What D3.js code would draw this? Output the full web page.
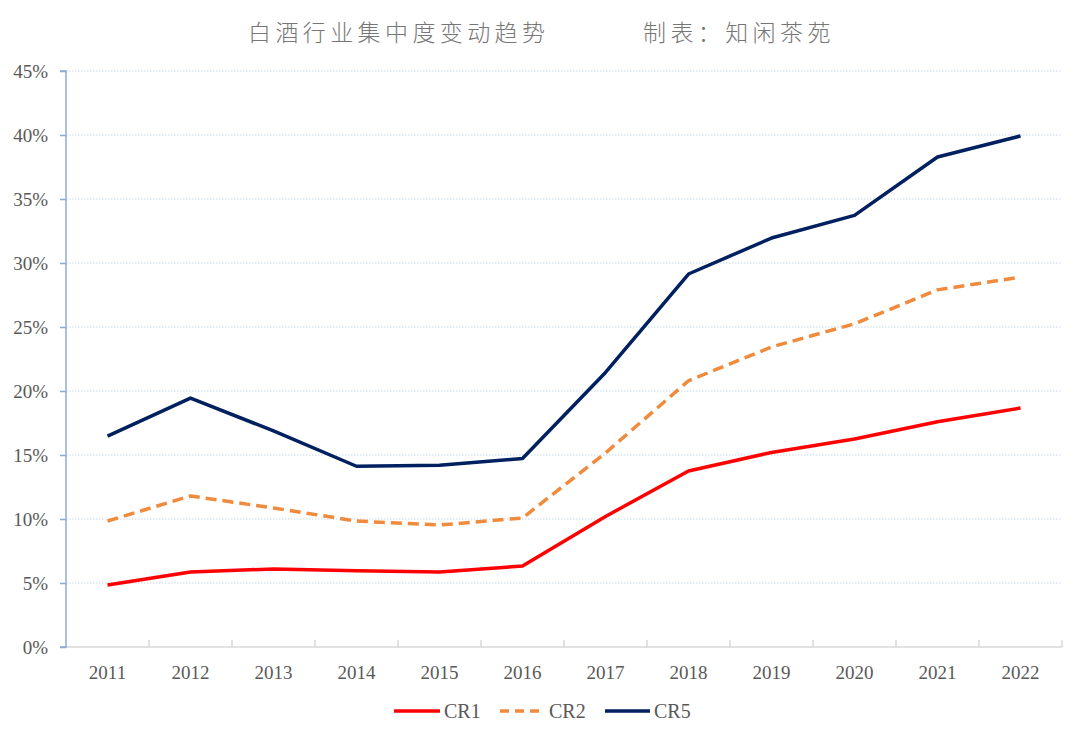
<!DOCTYPE html>
<html>
<head>
<meta charset="utf-8">
<script src="https://cdn.jsdelivr.net/npm/d3@7"></script>
<style>
    body { margin: 0; background: #fff; }
    svg { display: block; }
</style>
</head>
<body>
<div id="chart"></div>
<script>
// chart data
var years = ['2011', '2012', '2013', '2014', '2015', '2016', '2017', '2018', '2019', '2020', '2021', '2022'];
var cr1 = [4.85, 5.86, 6.1, 5.95, 5.86, 6.33, 10.2, 13.75, 15.2, 16.25, 17.6, 18.67];
var cr2 = [9.84, 11.8, 10.86, 9.84, 9.53, 10.08, 15.16, 20.8, 23.44, 25.25, 27.9, 28.9];
var cr5 = [16.48, 19.45, 16.88, 14.12, 14.2, 14.72, 21.45, 29.14, 31.95, 33.72, 38.28, 39.92];
var yTicks = [0, 5, 10, 15, 20, 25, 30, 35, 40, 45];
var seriesNames = ['CR1', 'CR2', 'CR5'];

var width = 1080;
var height = 737;
var margins = { top: 71, right: 18, bottom: 90, left: 66 };

var svg = d3.select('#chart').append('svg')
    .attr('width', width)
    .attr('height', height);

// title
var title = svg.append('text')
    .attr('x', 248)
    .attr('y', 41)
    .attr('fill', '#767676')
    .style('font-family', '"Noto Sans CJK SC", sans-serif')
    .style('font-weight', 300)
    .style('font-size', '23px')
    .style('letter-spacing', '4.4px');
title.append('tspan').text('白酒行业集中度变动趋势');
title.append('tspan').attr('x', 643).text('制表：知闲茶苑');

var x = d3.scaleBand()
    .domain(years)
    .range([margins.left, width - margins.right]);

var y = d3.scaleLinear()
    .domain([0, 45])
    .range([height - margins.bottom, margins.top]);

// gridlines
svg.append('g')
    .selectAll('line')
    .data(yTicks.slice(1))
    .enter().append('line')
    .attr('x1', margins.left)
    .attr('x2', width - margins.right)
    .attr('y1', function(d) { return y(d); })
    .attr('y2', function(d) { return y(d); })
    .attr('stroke', '#c5d7f0')
    .attr('stroke-width', 1)
    .attr('stroke-dasharray', '1.5,1.5');

// x axis
var xAxis = svg.append('g')
    .attr('transform', 'translate(0,' + y(0) + ')');
xAxis.append('line')
    .attr('x1', margins.left)
    .attr('x2', width - margins.right)
    .attr('stroke', '#d9d9d9')
    .attr('stroke-width', 1.5);
xAxis.selectAll('line.tick')
    .data(years)
    .enter().append('line')
    .attr('class', 'tick')
    .attr('x1', function(d) { return x(d) + x.bandwidth(); })
    .attr('x2', function(d) { return x(d) + x.bandwidth(); })
    .attr('y1', 0)
    .attr('y2', -7)
    .attr('stroke', '#d9d9d9')
    .attr('stroke-width', 1.5);
xAxis.selectAll('text')
    .data(years)
    .enter().append('text')
    .attr('x', function(d) { return x(d) + x.bandwidth() / 2; })
    .attr('y', 32)
    .attr('text-anchor', 'middle')
    .attr('fill', '#595959')
    .style('font-family', '"Liberation Serif", "Times New Roman", serif')
    .style('font-size', '19px')
    .text(function(d) { return d; });

// y axis
var yAxis = svg.append('g')
    .attr('transform', 'translate(' + margins.left + ',0)')
    .call(d3.axisLeft(y)
        .tickValues(yTicks)
        .tickSize(6)
        .tickPadding(12)
        .tickFormat(function(d) { return d + '%'; }));
yAxis.selectAll('path, line')
    .attr('stroke', '#8eaadb')
    .attr('stroke-width', 1.5);
yAxis.select('path').attr('d', 'M-6,' + y(45) + 'H0V' + y(0) + 'H-6');
yAxis.selectAll('text')
    .attr('fill', '#595959')
    .style('font-family', '"Liberation Serif", "Times New Roman", serif')
    .style('font-size', '19px');

// lines
var styles = {
    CR1: { color: '#ff0000', dash: null },
    CR2: { color: '#f08a3c', dash: '11,6' },
    CR5: { color: '#002060', dash: null }
};
var seriesData = { CR1: cr1, CR2: cr2, CR5: cr5 };

var line = d3.line()
    .x(function(d, i) { return x(years[i]) + x.bandwidth() / 2; })
    .y(function(d) { return y(d); });

seriesNames.forEach(function(name) {
    svg.append('path')
        .datum(seriesData[name])
        .attr('d', line)
        .attr('fill', 'none')
        .attr('stroke', styles[name].color)
        .attr('stroke-width', 3.5)
        .attr('stroke-linejoin', 'round')
        .attr('stroke-dasharray', styles[name].dash);
});

// legend
var legendX = [394, 500, 605];
var legendW = [46, 40, 45];
var legend = svg.append('g')
    .attr('transform', 'translate(0,711)');
seriesNames.forEach(function(name, i) {
    legend.append('line')
        .attr('x1', legendX[i])
        .attr('x2', legendX[i] + legendW[i])
        .attr('stroke', styles[name].color)
        .attr('stroke-width', 3.5)
        .attr('stroke-dasharray', styles[name].dash ? '9,6' : null);
    legend.append('text')
        .attr('x', legendX[i] + legendW[i] + (i == 1 ? 9 : 4))
        .attr('y', 7)
        .attr('fill', '#595959')
        .style('font-family', '"Liberation Serif", "Times New Roman", serif')
        .style('font-size', '20px')
        .text(name);
});
</script>
</body>
</html>
